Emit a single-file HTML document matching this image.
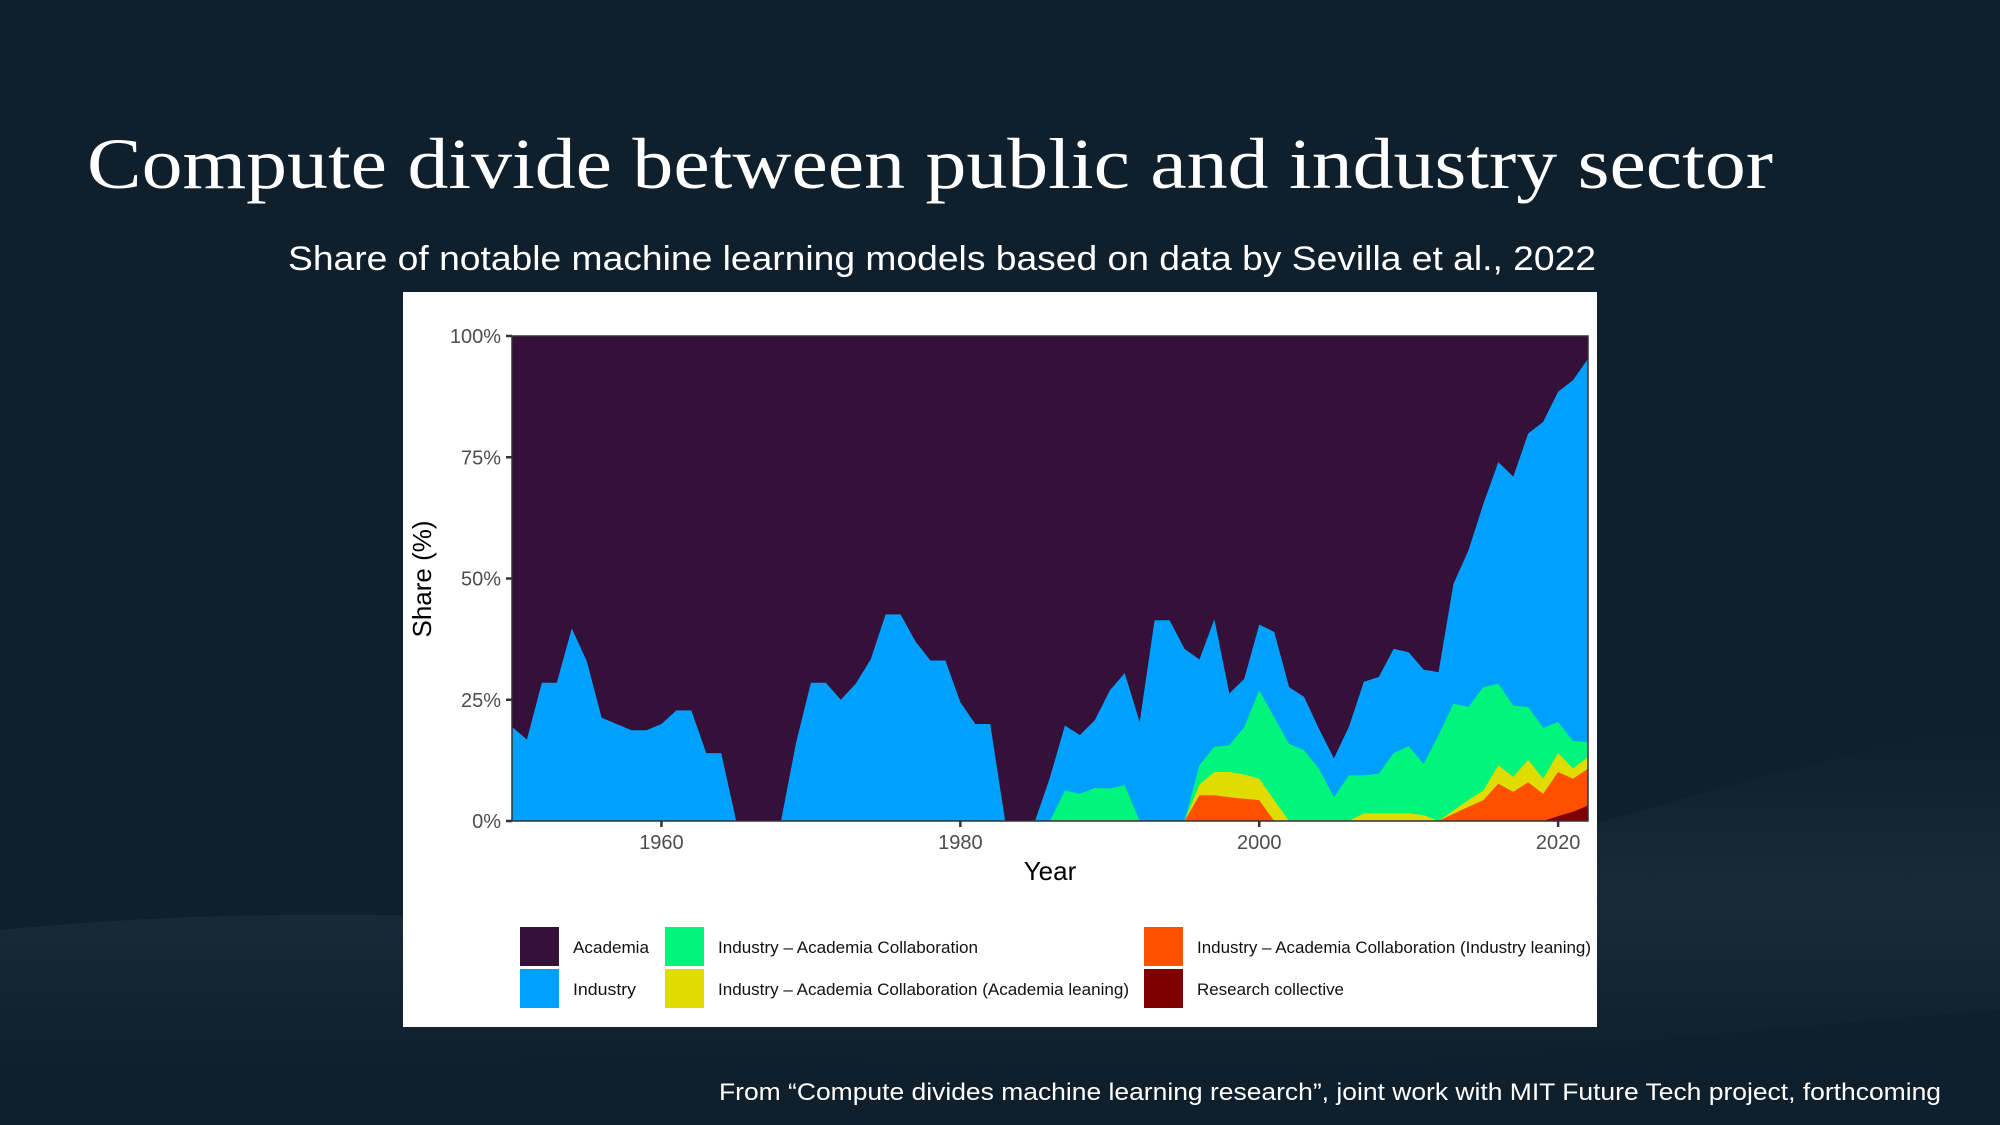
<!DOCTYPE html>
<html><head><meta charset="utf-8"><style>
html,body{margin:0;padding:0;background:#0f1f2b;}
svg{display:block;}
</style></head><body>
<svg id="page" width="2000" height="1125" viewBox="0 0 2000 1125" xmlns="http://www.w3.org/2000/svg">
<defs>
<linearGradient id="wave" x1="0" y1="0" x2="0" y2="1">
<stop offset="0" stop-color="#5f7f99" stop-opacity="0"/>
<stop offset="0.5" stop-color="#5f7f99" stop-opacity="0.12"/>
<stop offset="1" stop-color="#5f7f99" stop-opacity="0"/>
</linearGradient>
</defs>
<rect x="0" y="0" width="2000" height="1125" fill="#0f1f2b"/>
<path d="M0,930 C300,900 600,920 900,940 C1300,960 1700,760 2000,730 L2000,1010 C1700,1030 1300,1090 900,1060 C600,1040 300,1080 0,1060 Z" fill="url(#wave)"/>
<text x="87" y="188" font-family="'Liberation Serif', serif" font-size="72" fill="#ffffff" textLength="1686" lengthAdjust="spacingAndGlyphs">Compute divide between public and industry sector</text>
<text x="288" y="270" font-family="'Liberation Sans', sans-serif" font-size="34" fill="#ffffff" textLength="1308" lengthAdjust="spacingAndGlyphs">Share of notable machine learning models based on data by Sevilla et al., 2022</text>
<rect x="403" y="292" width="1194" height="735" fill="#ffffff"/>
<g id="plot"></g>
<g id="axes"></g>
<g id="legend"></g>
<text x="719" y="1100" font-family="'Liberation Sans', sans-serif" font-size="24" fill="#ffffff" textLength="1222" lengthAdjust="spacingAndGlyphs">From “Compute divides machine learning research”, joint work with MIT Future Tech project, forthcoming</text>
</svg>
<script>
const years = [1950,1951,1952,1953,1954,1955,1956,1957,1958,1959,1960,1961,1962,1963,1964,1965,1966,1967,1968,1969,1970,1971,1972,1973,1974,1975,1976,1977,1978,1979,1980,1981,1982,1983,1984,1985,1986,1987,1988,1989,1990,1991,1992,1993,1994,1995,1996,1997,1998,1999,2000,2001,2002,2003,2004,2005,2006,2007,2008,2009,2010,2011,2012,2013,2014,2015,2016,2017,2018,2019,2020,2021,2022];
const researchCollective = [0,0,0,0,0,0,0,0,0,0,0,0,0,0,0,0,0,0,0,0,0,0,0,0,0,0,0,0,0,0,0,0,0,0,0,0,0,0,0,0,0,0,0,0,0,0,0,0,0,0,0,0,0,0,0,0,0,0,0,0,0,0,0,0,0,0,0,0,0,0,1,1.9,3.2];
const industryLeaning = [0,0,0,0,0,0,0,0,0,0,0,0,0,0,0,0,0,0,0,0,0,0,0,0,0,0,0,0,0,0,0,0,0,0,0,0,0,0,0,0,0,0,0,0,0,0,5.3,5.3,4.9,4.6,4.3,0,0,0,0,0,0,0,0,0,0,0,0,1.5,2.9,4.3,7.7,6,8,5.6,9.1,6.8,7.6];
const academiaLeaning = [0,0,0,0,0,0,0,0,0,0,0,0,0,0,0,0,0,0,0,0,0,0,0,0,0,0,0,0,0,0,0,0,0,0,0,0,0,0,0,0,0,0,0,0,0,0,2.2,4.8,5.2,5,4.4,4.3,0,0,0,0,0,1.6,1.6,1.6,1.6,1.2,0,0.7,1.4,2,3.8,3.1,4.6,3.1,3.9,2.1,2.4];
const collaboration = [0,0,0,0,0,0,0,0,0,0,0,0,0,0,0,0,0,0,0,0,0,0,0,0,0,0,0,0,0,0,0,0,0,0,0,0,0,6.3,5.6,6.8,6.7,7.4,0,0,0,0,4,5.2,5.5,9.8,18.2,17.1,15.9,14.6,10.8,4.9,9.4,7.8,8.2,12.4,13.8,10.6,17.7,22,19.2,21.3,16.8,14.7,10.9,10.5,6.4,5.7,3.1];
const industry = [19.4,16.8,28.5,28.5,39.7,33,21.3,20,18.7,18.7,20,22.8,22.8,14,14,0,0,0,0,16,28.5,28.5,25,28.3,33.3,42.6,42.6,37,33.1,33.1,24.5,20,20,0,0,0,9,13.4,12.1,14,20.2,23.1,20.4,41.4,41.4,35.5,21.8,26.3,10.7,9.9,13.6,17.6,11.7,11,8.2,8,10,19.3,19.9,21.5,19.4,19.4,13,24.7,32.3,37.8,45.7,47.2,56.4,63.1,68.1,74.4,79];
const yTicks = [0,25,50,75,100];
const yTickLabels = ["0%","25%","50%","75%","100%"];
const xTicks = [1960,1980,2000,2020];

const NS = "http://www.w3.org/2000/svg";
const L = 512, R = 1588, T = 336, B = 821;
const x = yr => L + (yr - 1950) / (2022 - 1950) * (R - L);
const y = v => B - v / 100 * (B - T);
function mk(tag, attrs, parent){ const e = document.createElementNS(NS, tag); for (const k in attrs) e.setAttribute(k, attrs[k]); parent.appendChild(e); return e; }

const plot = document.getElementById('plot');
const axes = document.getElementById('axes');
const legend = document.getElementById('legend');

// academia background (remainder to 100%)
const acad = mk('rect', {x:L, y:T, width:R-L, height:B-T, fill:'#35113a'}, plot);



const layers = [
  {vals: researchCollective, color:'#7f0000', name:'area-research-collective'},
  {vals: industryLeaning, color:'#ff5000', name:'area-industry-leaning-collaboration'},
  {vals: academiaLeaning, color:'#e0dc00', name:'area-academia-leaning-collaboration'},
  {vals: collaboration, color:'#00f57a', name:'area-industry-academia-collaboration'},
  {vals: industry, color:'#00a0ff', name:'area-industry'}
];
let base = years.map(() => 0);
const drawOrder = [];
layers.forEach(l => {
  const top = base.map((b, i) => b + l.vals[i]);
  drawOrder.push({l, top: top.slice(), bot: base.slice()});
  base = top;
});
// draw from top cumulative to bottom so each area fills down to 0
for (let k = drawOrder.length - 1; k >= 0; k--) {
  const d = drawOrder[k];
  let p = 'M' + x(years[0]) + ',' + y(0);
  years.forEach((yr, i) => { p += ' L' + x(yr).toFixed(2) + ',' + y(d.top[i]).toFixed(2); });
  p += ' L' + x(years[years.length-1]) + ',' + y(0) + ' Z';
  const path = mk('path', {d:p, fill:d.l.color}, plot);
  
  
}

// axes frame
const frame = mk('rect', {x:L, y:T, width:R-L, height:B-T, fill:'none', stroke:'#333333', 'stroke-width':1.5}, axes);


yTicks.forEach((v, i) => {
  const t = mk('line', {x1:L-6, x2:L, y1:y(v), y2:y(v), stroke:'#333', 'stroke-width':2.5}, axes);
  
  
  const lb = mk('text', {x:L-11, y:y(v)+7, 'text-anchor':'end', 'font-family':"'Liberation Sans', sans-serif", 'font-size':20, fill:'#4d4d4d'}, axes);
  lb.textContent = yTickLabels[i];
  
  
});
xTicks.forEach(v => {
  const t = mk('line', {x1:x(v), x2:x(v), y1:B, y2:B+6, stroke:'#333', 'stroke-width':2.5}, axes);
  
  
  const lb = mk('text', {x:x(v), y:B+28, 'text-anchor':'middle', 'font-family':"'Liberation Sans', sans-serif", 'font-size':20, fill:'#4d4d4d'}, axes);
  lb.textContent = v;
  
  
});
const xt = mk('text', {x:(L+R)/2, y:880, 'text-anchor':'middle', 'font-family':"'Liberation Sans', sans-serif", 'font-size':26, fill:'#000'}, axes);
xt.textContent = 'Year';


const yt = mk('text', {x:0, y:0, 'text-anchor':'middle', 'font-family':"'Liberation Sans', sans-serif", 'font-size':26, fill:'#000', transform:'translate(431,579) rotate(-90)'}, axes);
yt.textContent = 'Share (%)';



// legend
const legendItems = [
  {sx:520, sy:927, tx:573, label:'Academia', color:'#35113a', w:76},
  {sx:520, sy:969, tx:573, label:'Industry', color:'#00a0ff', w:63},
  {sx:665, sy:927, tx:718, label:'Industry – Academia Collaboration', color:'#00f57a', w:260},
  {sx:665, sy:969, tx:718, label:'Industry – Academia Collaboration (Academia leaning)', color:'#e0dc00', w:411},
  {sx:1144, sy:927, tx:1197, label:'Industry – Academia Collaboration (Industry leaning)', color:'#ff5000', w:394},
  {sx:1144, sy:969, tx:1197, label:'Research collective', color:'#7f0000', w:147}
];
legendItems.forEach(it => {
  const g = mk('g', {}, legend);
  
  
  const s = mk('rect', {x:it.sx, y:it.sy, width:39, height:39, fill:it.color}, g);
  
  
  const tx = mk('text', {x:it.tx, y:it.sy+26, 'font-family':"'Liberation Sans', sans-serif", 'font-size':17, fill:'#111', textLength:it.w, lengthAdjust:'spacingAndGlyphs'}, g);
  tx.textContent = it.label;
  
  
});
</script>
</body></html>
